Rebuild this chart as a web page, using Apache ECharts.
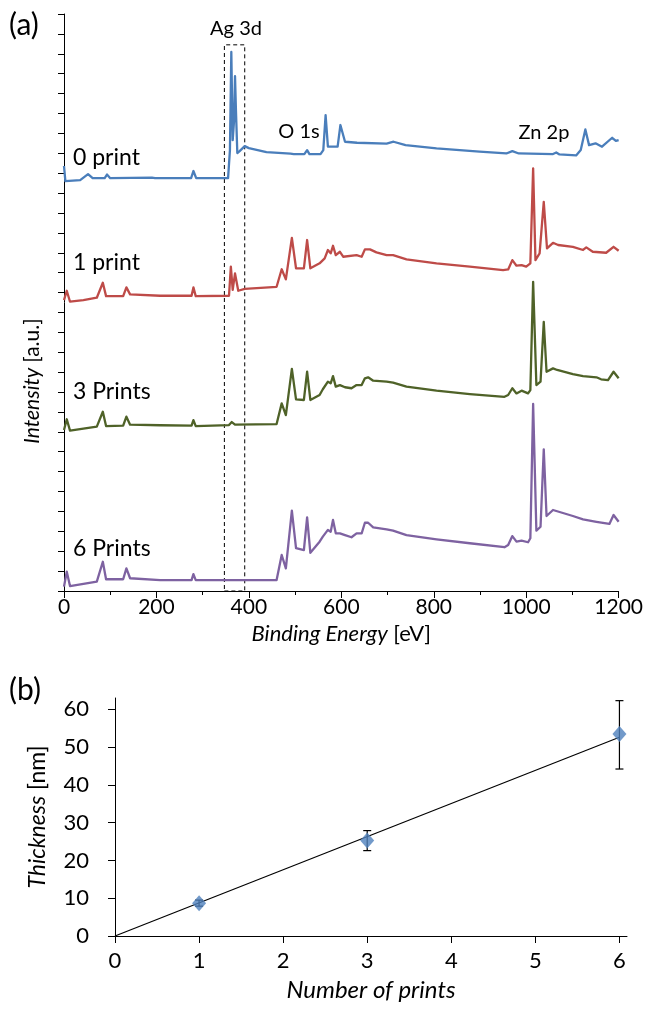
<!DOCTYPE html>
<html lang="en">
<head>
<meta charset="UTF-8">
<title>XPS survey and film thickness</title>
<script src="https://cdn.jsdelivr.net/npm/echarts@6/dist/echarts.min.js"></script>
<style>
    html, body { margin: 0; padding: 0; background: #fff; }
    #main { width: 646px; height: 1013px; }
</style>
</head>
<body>
<div id="main"></div>
<script>
    // (a) XPS survey spectra, [binding energy eV, intensity a.u. (offset)]
    var spec0 = [[0,21.36],[3,20.60],[35,20.65],[52,20.95],[62,20.75],[88,20.75],[93,20.93],[100,20.75],[190,20.78],[193,20.85],[197,20.75],[275,20.75],[280,21.11],[286,20.75],[355,20.75],[359,22.16],[362,27.09],[365,22.66],[368,23.67],[370,25.88],[372,24.17],[375,22.01],[380,22.11],[391,22.36],[400,22.26],[438,22.06],[490,21.98],[493,22.06],[497,21.96],[520,21.96],[526,22.16],[531,21.96],[555,21.96],[561,22.16],[566,23.92],[571,22.33],[592,22.33],[598,23.42],[608,22.58],[634,22.53],[698,22.49],[713,22.58],[739,22.41],[806,22.25],[899,22.08],[957,21.99],[970,22.11],[984,21.99],[1058,21.96],[1065,22.04],[1072,21.94],[1108,21.89],[1118,22.16],[1128,23.20],[1136,22.41],[1150,22.50],[1164,22.33],[1186,22.78],[1194,22.62],[1200,22.66]];
    var spec1 = [[0,14.62],[6,15.09],[13,14.54],[42,14.62],[71,14.74],[84,15.49],[91,14.82],[128,14.82],[135,15.26],[143,14.91],[208,14.84],[276,14.84],[280,15.26],[285,14.82],[357,14.84],[361,16.30],[365,15.13],[370,15.96],[377,15.09],[391,15.18],[460,15.29],[471,16.17],[480,15.66],[493,17.75],[502,16.22],[519,16.22],[526,17.64],[533,16.22],[553,16.47],[564,16.72],[571,17.14],[577,16.97],[582,17.35],[588,16.88],[597,17.05],[604,16.80],[633,16.88],[644,16.80],[651,17.17],[662,17.17],[676,17.02],[698,16.88],[712,16.88],[741,16.67],[806,16.47],[878,16.30],[950,16.13],[961,16.16],[970,16.63],[979,16.35],[990,16.38],[1000,16.30],[1009,16.47],[1015,21.24],[1020,16.63],[1029,16.97],[1038,19.56],[1045,17.22],[1058,17.50],[1069,17.39],[1101,17.30],[1123,17.14],[1130,17.27],[1144,17.05],[1173,17.00],[1189,17.30],[1200,17.10]];
    var spec3 = [[0,8.09],[6,8.63],[13,8.06],[71,8.26],[84,9.01],[91,8.29],[128,8.31],[135,8.76],[143,8.36],[208,8.33],[276,8.31],[280,8.59],[285,8.29],[357,8.34],[363,8.49],[370,8.36],[460,8.39],[471,9.43],[480,8.84],[493,11.16],[502,9.63],[519,9.60],[526,11.02],[533,9.60],[553,9.85],[560,10.14],[564,10.19],[571,10.52],[577,10.44],[582,10.80],[588,10.27],[597,10.35],[608,10.24],[622,10.19],[633,10.35],[644,10.35],[651,10.69],[658,10.74],[669,10.57],[698,10.52],[712,10.47],[741,10.27],[806,10.07],[878,9.90],[953,9.76],[961,9.85],[970,10.19],[979,9.93],[990,10.07],[1004,9.93],[1009,10.10],[1015,15.54],[1022,10.35],[1031,10.52],[1038,13.53],[1044,11.02],[1058,11.19],[1067,11.11],[1101,10.90],[1123,10.80],[1152,10.74],[1162,10.64],[1177,10.60],[1189,11.02],[1200,10.69]];
    var spec6 = [[0,0.22],[6,0.97],[13,0.25],[71,0.47],[84,1.47],[91,0.59],[128,0.59],[135,1.14],[143,0.64],[208,0.55],[276,0.55],[280,0.85],[285,0.55],[460,0.55],[471,1.81],[480,1.14],[493,4.04],[502,2.15],[519,2.06],[526,3.70],[533,1.92],[553,2.48],[560,2.73],[564,2.73],[571,3.07],[577,2.98],[582,3.57],[588,2.90],[597,2.90],[608,2.81],[622,2.70],[633,2.90],[644,2.90],[651,3.43],[658,3.43],[669,3.20],[698,3.10],[712,3.03],[741,2.81],[806,2.60],[878,2.40],[953,2.20],[961,2.31],[970,2.76],[979,2.48],[990,2.53],[1004,2.45],[1009,2.65],[1015,9.40],[1022,3.03],[1031,3.23],[1038,7.12],[1044,3.77],[1058,4.07],[1101,3.77],[1123,3.60],[1152,3.48],[1180,3.37],[1189,3.82],[1200,3.48]];
    var specNames = ['0 print', '1 print', '3 Prints', '6 Prints'];
    var specColors = ['#4A7EBB', '#BE4B48', '#4F6228', '#7E62A1'];
    var agBox = [347, 391, 27.45]; // dashed Ag 3d window: from, to, height

    // (b) thickness vs number of prints
    var prints = [1, 3, 6];
    var thickness = [8.7, 25.3, 53.5];
    var errLow = [7.9, 22.6, 44.2];
    var errHigh = [9.5, 27.9, 62.3];
    var fitLine = [[0, 0], [6, 52.6]];
    var printTicks = [0, 1, 2, 3, 4, 5, 6];
    var thickTicks = [0, 10, 20, 30, 40, 50, 60];

    var font = 'Lato';
    var myChart = echarts.init(document.getElementById('main'));

    function plain(v) { return String(v); }

    var specSeries = [spec0, spec1, spec3, spec6].map(function (d, i) {
        return {
            name: specNames[i],
            type: 'line',
            xAxisIndex: 0,
            yAxisIndex: 0,
            data: d,
            showSymbol: false,
            symbol: 'none',
            lineStyle: { color: specColors[i], width: 2.3, join: 'round' },
            z: 3
        };
    });
    // dashed box round the Ag 3d peaks
    specSeries[0].markArea = {
        silent: true,
        itemStyle: { color: 'rgba(0,0,0,0)', borderColor: '#000', borderWidth: 1, borderType: [4, 3] },
        data: [[{ coord: [agBox[0], 0] }, { coord: [agBox[1], agBox[2]] }]]
    };

    var option = {
        animation: false,
        textStyle: { fontFamily: font, color: '#000' },
        grid: [
            { left: 64, top: 14, width: 556, height: 577 },
            { left: 115, top: 698, width: 512, height: 238 }
        ],
        xAxis: [{
            gridIndex: 0,
            type: 'value',
            min: 0,
            max: 1200,
            interval: 200,
            name: '{i|Binding Energy} [eV]',
            nameLocation: 'middle',
            nameGap: 28,
            nameTextStyle: { fontSize: 22, color: '#000', rich: { i: { fontStyle: 'italic', fontSize: 22 } } },
            axisLine: { lineStyle: { color: '#000', width: 1 } },
            axisTick: { length: 7, lineStyle: { color: '#000' } },
            minorTick: { show: true, splitNumber: 2, length: 4, lineStyle: { color: '#000' } },
            axisLabel: { fontSize: 21, color: '#000', margin: 6, formatter: plain },
            splitLine: { show: false }
        }, {
            gridIndex: 1,
            type: 'value',
            min: 0,
            max: 6.09,
            name: 'Number of prints',
            nameLocation: 'middle',
            nameGap: 42,
            nameTextStyle: { fontSize: 24, fontStyle: 'italic', color: '#000' },
            axisLine: { lineStyle: { color: '#000', width: 1 } },
            axisTick: { length: 7, customValues: printTicks, lineStyle: { color: '#000' } },
            axisLabel: { fontSize: 22, color: '#000', margin: 14, customValues: printTicks, formatter: plain },
            splitLine: { show: false }
        }],
        yAxis: [{
            gridIndex: 0,
            type: 'value',
            min: 0,
            max: 29,
            interval: 1,
            axisLine: { show: true, lineStyle: { color: '#000', width: 1 } },
            axisTick: { show: true, length: 6, lineStyle: { color: '#000' } },
            axisLabel: { show: false },
            splitLine: { show: false }
        }, {
            gridIndex: 1,
            type: 'value',
            min: 0,
            max: 63,
            name: '{i|Thickness} [nm]',
            nameLocation: 'middle',
            nameGap: 66,
            nameTextStyle: { fontSize: 23, color: '#000', rich: { i: { fontStyle: 'italic', fontSize: 23 } } },
            axisLine: { show: true, lineStyle: { color: '#000', width: 1 } },
            axisTick: { show: true, length: 7, customValues: thickTicks, lineStyle: { color: '#000' } },
            axisLabel: { fontSize: 22, color: '#000', margin: 26, customValues: thickTicks, formatter: plain },
            splitLine: { show: false }
        }],
        graphic: [
            { type: 'text', x: 9, y: 25, style: { text: '(a)', font: '30px Lato', fill: '#000', verticalAlign: 'middle' } },
            { type: 'text', x: 9, y: 690, style: { text: '(b)', font: '30px Lato', fill: '#000', verticalAlign: 'middle' } },
            { type: 'text', x: 236, y: 29, style: { text: 'Ag 3d', font: '20px Lato', fill: '#000', align: 'center', verticalAlign: 'middle' } },
            { type: 'text', x: 299, y: 132, style: { text: 'O 1s', font: '20px Lato', fill: '#000', align: 'center', verticalAlign: 'middle' } },
            { type: 'text', x: 544, y: 133, style: { text: 'Zn 2p', font: '20px Lato', fill: '#000', align: 'center', verticalAlign: 'middle' } },
            { type: 'text', x: 73, y: 158, style: { text: specNames[0], font: '23px Lato', fill: '#000', verticalAlign: 'middle' } },
            { type: 'text', x: 73, y: 263, style: { text: specNames[1], font: '23px Lato', fill: '#000', verticalAlign: 'middle' } },
            { type: 'text', x: 73, y: 392, style: { text: specNames[2], font: '23px Lato', fill: '#000', verticalAlign: 'middle' } },
            { type: 'text', x: 73, y: 549, style: { text: specNames[3], font: '23px Lato', fill: '#000', verticalAlign: 'middle' } },
            {
                type: 'text', x: 32, y: 381, rotation: Math.PI / 2,
                style: {
                    text: '{i|Intensity} [a.u.]', font: '21px Lato', fill: '#000', align: 'center', verticalAlign: 'middle',
                    rich: { i: { fontStyle: 'italic', fontSize: 21, fontFamily: font } }
                }
            }
        ],
        series: specSeries.concat([{
            name: 'fit',
            type: 'line',
            xAxisIndex: 1,
            yAxisIndex: 1,
            data: fitLine,
            showSymbol: false,
            symbol: 'none',
            lineStyle: { color: '#000', width: 1.2 },
            z: 2
        }, {
            name: 'error',
            type: 'custom',
            xAxisIndex: 1,
            yAxisIndex: 1,
            data: prints.map(function (p, i) { return [p, errLow[i], errHigh[i]]; }),
            renderItem: function (params, api) {
                var lo = api.coord([api.value(0), api.value(1)]);
                var hi = api.coord([api.value(0), api.value(2)]);
                var w = 4;
                var st = { stroke: '#000', lineWidth: 1.2 };
                return {
                    type: 'group',
                    children: [
                        { type: 'line', shape: { x1: lo[0], y1: lo[1], x2: hi[0], y2: hi[1] }, style: st },
                        { type: 'line', shape: { x1: lo[0] - w, y1: lo[1], x2: lo[0] + w, y2: lo[1] }, style: st },
                        { type: 'line', shape: { x1: hi[0] - w, y1: hi[1], x2: hi[0] + w, y2: hi[1] }, style: st }
                    ]
                };
            },
            z: 3
        }, {
            name: 'thickness',
            type: 'scatter',
            xAxisIndex: 1,
            yAxisIndex: 1,
            data: prints.map(function (p, i) { return [p, thickness[i]]; }),
            symbol: 'diamond',
            symbolSize: [14, 16],
            itemStyle: { color: '#4F81BD' },
            z: 4
        }])
    };

    myChart.setOption(option);
</script>
</body>
</html>
